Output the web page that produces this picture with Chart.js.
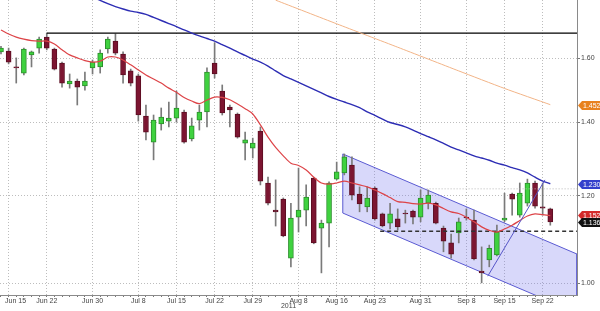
<!DOCTYPE html>
<html><head><meta charset="utf-8">
<script src="https://cdn.jsdelivr.net/npm/chart.js@4.4.1/dist/chart.umd.min.js"></script>
<style>html,body{margin:0;padding:0;background:#fff;}#wrap{width:600px;height:311px;position:relative;}</style>
</head><body><div id="wrap"><canvas id="c" width="600" height="311"></canvas></div>
<script>
// ---- data ----
const dates = ['Jun 14','Jun 15','Jun 16','Jun 17','Jun 20','Jun 21','Jun 22','Jun 23','Jun 24','Jun 27','Jun 28','Jun 29','Jun 30',
 'Jul 1','Jul 4','Jul 5','Jul 6','Jul 7','Jul 8','Jul 11','Jul 12','Jul 13','Jul 14','Jul 15','Jul 18','Jul 19','Jul 20','Jul 21','Jul 22','Jul 25','Jul 26','Jul 27','Jul 28','Jul 29',
 'Aug 1','Aug 2','Aug 3','Aug 4','Aug 5','Aug 8','Aug 9','Aug 10','Aug 11','Aug 12','Aug 16','Aug 17','Aug 18','Aug 19','Aug 22','Aug 23','Aug 24','Aug 25','Aug 26','Aug 29','Aug 30','Aug 31',
 'Sep 1','Sep 2','Sep 5','Sep 6','Sep 7','Sep 8','Sep 9','Sep 12','Sep 13','Sep 14','Sep 15','Sep 16','Sep 19','Sep 20','Sep 21','Sep 22','Sep 23'];
const opens  = [1.621,1.624,1.571,1.551,1.611,1.634,1.672,1.631,1.584,1.516,1.525,1.510,1.568,
 1.571,1.631,1.658,1.614,1.558,1.542,1.418,1.343,1.395,1.403,1.412,1.430,1.352,1.406,1.430,1.584,1.494,1.445,1.424,1.340,1.326,
 1.374,1.233,1.165,1.192,1.054,1.148,1.165,1.246,1.122,1.134,1.243,1.259,1.280,1.205,1.173,1.220,1.156,1.134,1.144,1.158,1.163,1.148,
 1.182,1.182,1.122,1.088,1.111,1.148,1.141,1.026,1.050,1.061,1.141,1.205,1.153,1.182,1.233,1.173,1.168];
const highs  = [1.640,1.634,1.601,1.634,1.624,1.672,1.686,1.634,1.587,1.548,1.532,1.554,1.594,
 1.628,1.672,1.683,1.621,1.564,1.548,1.451,1.421,1.442,1.460,1.494,1.436,1.412,1.451,1.568,1.652,1.513,1.451,1.427,1.371,1.354,
 1.386,1.248,1.241,1.195,1.182,1.272,1.228,1.248,1.141,1.236,1.288,1.310,1.302,1.223,1.223,1.223,1.158,1.182,1.168,1.165,1.165,1.215,
 1.215,1.185,1.127,1.108,1.146,1.168,1.165,1.079,1.083,1.129,1.207,1.207,1.233,1.243,1.238,1.233,1.170];
const lows   = [1.614,1.581,1.519,1.545,1.571,1.617,1.628,1.561,1.506,1.503,1.451,1.497,1.548,
 1.551,1.617,1.611,1.519,1.510,1.403,1.349,1.294,1.377,1.386,1.400,1.340,1.346,1.377,1.386,1.535,1.421,1.386,1.354,1.294,1.299,
 1.228,1.178,1.127,1.102,1.035,1.113,1.127,1.086,1.022,1.079,1.241,1.254,1.190,1.161,1.161,1.141,1.125,1.120,1.118,1.134,1.132,1.137,
 1.168,1.132,1.068,1.054,1.088,1.141,1.050,1.001,1.035,1.059,1.137,1.153,1.148,1.175,1.170,1.153,1.129];
const closes = [1.634,1.587,1.568,1.631,1.621,1.665,1.634,1.564,1.519,1.525,1.506,1.525,1.587,
 1.617,1.665,1.617,1.545,1.519,1.421,1.371,1.406,1.415,1.412,1.442,1.343,1.389,1.430,1.554,1.548,1.427,1.436,1.357,1.349,1.340,
 1.238,1.182,1.161,1.104,1.146,1.165,1.197,1.088,1.134,1.233,1.262,1.302,1.202,1.180,1.195,1.144,1.127,1.156,1.125,1.156,1.148,1.195,
 1.202,1.134,1.092,1.063,1.137,1.146,1.052,1.022,1.076,1.113,1.146,1.192,1.207,1.233,1.175,1.170,1.137];
const redMA = [1.697,1.683,1.672,1.665,1.660,1.658,1.658,1.648,1.628,1.611,1.601,1.592,1.587,
 1.590,1.604,1.604,1.594,1.578,1.561,1.545,1.532,1.519,1.503,1.490,1.474,1.463,1.455,1.466,1.475,1.474,1.467,1.454,1.440,1.424,
 1.392,1.357,1.328,1.305,1.285,1.279,1.267,1.248,1.233,1.230,1.233,1.238,1.233,1.228,1.223,1.215,1.206,1.196,1.186,1.184,1.181,1.180,
 1.182,1.178,1.169,1.161,1.157,1.148,1.137,1.125,1.117,1.113,1.120,1.129,1.140,1.151,1.156,1.154,1.152];
const blueMA = [null,null,null,null,null,null,null,null,null,null,null,null,1.818,
 1.805,1.793,1.782,1.773,1.765,1.760,1.753,1.742,1.731,1.720,1.709,1.697,1.686,1.676,1.667,1.658,1.646,1.634,1.621,1.609,1.597,
 1.587,1.574,1.558,1.543,1.532,1.521,1.510,1.499,1.488,1.477,1.468,1.460,1.452,1.443,1.430,1.420,1.409,1.399,1.393,1.386,1.377,1.367,
 1.358,1.349,1.339,1.329,1.321,1.313,1.305,1.299,1.293,1.285,1.280,1.273,1.267,1.259,1.248,1.238,1.231];
const orangeIdx = [36, 44, 52, 60, 66, 72];
const orangeMA  = [1.806, 1.719, 1.637, 1.558, 1.502, 1.452];
const resistance = 1.686;      // black horizontal from Jun 22 high
const dashedLevel = 1.115;
const grayLevel = 1.218;
const channelIdx = [44.8, 75.5, 75.5, 44.8, 44.8];
const channelVal = [1.310, 1.063, 0.940, 1.158, 1.310];
const trendIdx = [63.8, 71.3];
const trendVal = [1.015, 1.241];
const tickDates = ['Jun 15','Jun 22','Jun 30','Jul 8','Jul 15','Jul 22','Jul 29','Aug 8','Aug 16','Aug 23','Aug 31','Sep 8','Sep 15','Sep 22'];
const yTicks = [1.00, 1.20, 1.40, 1.60];
const tagValues = [1.4523, 1.2308, 1.1521, 1.136];
const tagTexts  = ['1.4523','1.2308','1.1521','1.136'];
const yearLabel = '2011';

// ---- build ----
const X_MIN = -0.13, X_MAX = 75.5, Y_MIN = 0.9759, Y_MAX = 1.8066;
const labeledIdx = new Set(tickDates.map(d => dates.indexOf(d)));
const tagColors = ['#e8821e', '#3440cc', '#d42a2a', '#111111'];
const FONT = 'Liberation Sans, Arial, sans-serif';

const up = i => closes[i] >= opens[i];
const wickData = dates.map((d, i) => ({x: i, y: [lows[i], highs[i]]}));
const bodyData = dates.map((d, i) => ({x: i, y: [opens[i], closes[i]]}));

const tagPlugin = {
  id: 'tags',
  afterDraw(chart) {
    const ctx = chart.ctx, ys = chart.scales.y;
    const x0 = chart.chartArea.right + 1;
    ctx.save();
    ctx.font = '7px ' + FONT;
    ctx.textBaseline = 'middle';
    ctx.textAlign = 'left';
    tagValues.forEach((v, k) => {
      const y = Math.round(ys.getPixelForValue(v)) + 0.5;
      ctx.fillStyle = tagColors[k];
      ctx.beginPath();
      ctx.moveTo(x0, y);
      ctx.lineTo(x0 + 4, y - 4.5);
      ctx.lineTo(600, y - 4.5);
      ctx.lineTo(600, y + 4.5);
      ctx.lineTo(x0 + 4, y + 4.5);
      ctx.closePath();
      ctx.fill();
      ctx.fillStyle = '#fff';
      ctx.fillText(tagTexts[k], x0 + 5, y + 0.5);
    });
    ctx.restore();
  }
};

new Chart(document.getElementById('c'), {
  type: 'line',
  data: {
    datasets: [
      { type: 'line', label: 'channel', data: channelIdx.map((x, i) => ({x, y: channelVal[i]})),
        borderColor: '#5a5ad2', borderWidth: 1, backgroundColor: 'rgba(110,110,235,0.27)', fill: 'shape',
        pointRadius: 0, tension: 0, order: 20 },
      { type: 'bar', label: 'wick', data: wickData, grouped: false, barThickness: 1,
        backgroundColor: '#7a7a7a', borderWidth: 0, order: 10 },
      { type: 'bar', label: 'body', data: bodyData, grouped: false, barThickness: 5,
        backgroundColor: c => up(c.dataIndex) ? '#3fd23f' : '#7c1531',
        borderColor: c => up(c.dataIndex) ? '#2c8f2c' : '#5c0e22',
        borderWidth: 1, borderSkipped: false, order: 9 },
      { type: 'line', label: 'resistance', data: [{x: dates.indexOf('Jun 22'), y: resistance}, {x: X_MAX, y: resistance}],
        borderColor: '#000', borderWidth: 1.2, pointRadius: 0, order: 5 },
      { type: 'line', label: 'gray', data: [{x: dates.indexOf('Aug 31'), y: grayLevel}, {x: X_MAX, y: grayLevel}],
        borderColor: '#b8b8b8', borderWidth: 1, borderDash: [1, 2], pointRadius: 0, order: 6 },
      { type: 'line', label: 'dashed', data: [{x: 49.7, y: dashedLevel}, {x: X_MAX, y: dashedLevel}],
        borderColor: '#333', borderWidth: 1.5, borderDash: [4, 3], pointRadius: 0, order: 5 },
      { type: 'line', label: 'orange', data: orangeIdx.map((x, i) => ({x, y: orangeMA[i]})),
        borderColor: '#f2b487', borderWidth: 1, pointRadius: 0, tension: 0.2, order: 4 },
      { type: 'line', label: 'blue', data: blueMA.map((y, x) => ({x, y})),
        borderColor: '#2d2db4', borderWidth: 1.4, pointRadius: 0, tension: 0.3, spanGaps: false, order: 3 },
      { type: 'line', label: 'red', data: redMA.map((y, x) => ({x, y})),
        borderColor: '#dd4448', borderWidth: 1.2, pointRadius: 0, tension: 0.3, order: 2 },
      { type: 'line', label: 'trend', data: trendIdx.map((x, i) => ({x, y: trendVal[i]})),
        borderColor: '#5656c8', borderWidth: 1, pointRadius: 0, order: 1 }
    ]
  },
  options: {
    responsive: false, animation: false, devicePixelRatio: 1,
    layout: { padding: 0 },
    plugins: { legend: { display: false }, tooltip: { enabled: false } },
    scales: {
      x: {
        type: 'linear', min: X_MIN, max: X_MAX, offset: false, bounds: 'data',
        afterBuildTicks: s => { const t = []; for (let i = 0; i <= 75; i++) t.push({value: i}); s.ticks = t; },
        afterFit: s => { s.height = 16; s.paddingLeft = 0; s.paddingRight = 0; },
        grid: {
          offset: false, drawOnChartArea: true, drawTicks: true, tickLength: 2,
          color: c => (c.tick && labeledIdx.has(c.tick.value)) ? '#bdbdbd' : 'rgba(0,0,0,0)',
          tickColor: '#777', lineWidth: 1
        },
        border: { display: true, color: '#8a8a8a', width: 1, dash: [1, 2] },
        ticks: {
          autoSkip: false, maxRotation: 0, minRotation: 0, padding: 0, color: '#444',
          font: { family: FONT, size: 7 },
          callback: v => labeledIdx.has(v) ? (v === labeledIdx.values().next().value ? '\u2002\u2002\u2002\u2002' + dates[v] : dates[v]) : ''
        },
        title: { display: true, text: yearLabel, color: '#444', font: { family: FONT, size: 7 }, padding: { top: 0, bottom: 1 } }
      },
      y: {
        type: 'logarithmic', position: 'right', min: Y_MIN, max: Y_MAX,
        afterBuildTicks: s => { s.ticks = yTicks.map(v => ({value: v})); },
        afterFit: s => { s.width = 23; s.paddingTop = 0; s.paddingBottom = 0; },
        grid: { color: '#bdbdbd', tickColor: '#777', tickLength: 3, drawTicks: true },
        border: { display: true, color: '#8a8a8a', width: 1, dash: [1, 2] },
        ticks: { padding: 1, color: '#444', font: { family: FONT, size: 7 }, callback: v => Number(v).toFixed(2) }
      }
    }
  },
  plugins: [tagPlugin]
});
</script>
</body></html>
